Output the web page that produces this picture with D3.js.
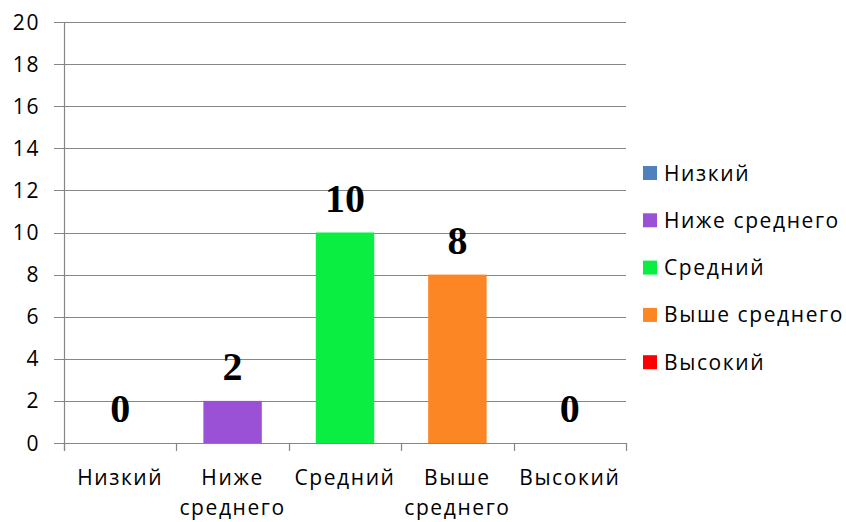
<!DOCTYPE html>
<html>
<head>
<meta charset="utf-8">
<script src="https://cdn.jsdelivr.net/npm/d3@7"></script>
<style>
  html, body { margin: 0; padding: 0; background: #fff; }
  svg { display: block; }
  text { font-family: "Open Sans", "Liberation Sans", sans-serif; fill: #000; }
</style>
</head>
<body>
<svg id="chart" width="846" height="522"></svg>
<script>
// Distribution of levels
const categories = ["Низкий", "Ниже среднего", "Средний", "Выше среднего", "Высокий"];
const categoryLines = [["Низкий"], ["Ниже", "среднего"], ["Средний"], ["Выше", "среднего"], ["Высокий"]];
const values = [0, 2, 10, 8, 0];
const colors = ["#4f81bd", "#9b51d6", "#0aee42", "#fb8623", "#fe0000"];
const yTicks = [0, 2, 4, 6, 8, 10, 12, 14, 16, 18, 20];

const svg = d3.select("#chart");
const x0 = 64, xEnd = 626;
const yTop = 22, yBot = 443;

const x = d3.scaleBand().domain(categories).range([x0, xEnd]).paddingInner(0.48).paddingOuter(0.24);
const xb = d3.scaleBand().domain(categories).range([x0, xEnd]);
const y = d3.scaleLinear().domain([0, 20]).range([yBot, yTop]);

const gridColor = "#868686";
const labelSize = 21;
const spacing = "1.6px";

// horizontal gridlines with left tick stubs
svg.append("g").selectAll("line").data(yTicks).join("line")
  .attr("x1", 54).attr("x2", xEnd)
  .attr("y1", d => Math.round(y(d)) + 0.5).attr("y2", d => Math.round(y(d)) + 0.5)
  .attr("stroke", gridColor).attr("stroke-width", 1.2);

// y tick labels
svg.append("g").selectAll("text").data(yTicks).join("text")
  .attr("x", 40).attr("y", d => y(d)).attr("dy", "0.36em")
  .attr("text-anchor", "end").attr("font-size", labelSize)
  .style("letter-spacing", spacing).text(d => d);

// bars
svg.append("g").selectAll("rect").data(values).join("rect")
  .attr("x", (d, i) => x(categories[i]))
  .attr("width", x.bandwidth())
  .attr("y", d => y(d))
  .attr("height", d => yBot - y(d))
  .attr("fill", (d, i) => colors[i]);

// y axis line
svg.append("line").attr("x1", x0 + 0.5).attr("x2", x0 + 0.5)
  .attr("y1", yTop).attr("y2", yBot + 8)
  .attr("stroke", gridColor).attr("stroke-width", 1.2);

// x axis baseline and category dividers
svg.append("line").attr("x1", x0).attr("x2", xEnd)
  .attr("y1", Math.round(yBot) + 0.5).attr("y2", Math.round(yBot) + 0.5)
  .attr("stroke", gridColor).attr("stroke-width", 1.2);
const dividers = categories.map(c => xb(c)).concat([xb(categories[categories.length - 1]) + xb.bandwidth()]);
svg.append("g").selectAll("line").data(dividers).join("line")
  .attr("x1", d => Math.round(d) + 0.5).attr("x2", d => Math.round(d) + 0.5)
  .attr("y1", yBot).attr("y2", yBot + 8)
  .attr("stroke", gridColor).attr("stroke-width", 1.2);

// category labels
const catG = svg.append("g").selectAll("text").data(categoryLines).join("text")
  .attr("text-anchor", "middle").attr("font-size", labelSize)
  .style("letter-spacing", spacing)
  .attr("x", (d, i) => xb(categories[i]) + xb.bandwidth() / 2)
  .attr("y", 485);
catG.selectAll("tspan").data(d => d).join("tspan")
  .attr("x", function () { return d3.select(this.parentNode).attr("x"); })
  .attr("dy", (d, j) => j === 0 ? 0 : 30)
  .text(d => d);

// value labels
svg.append("g").selectAll("text").data(values).join("text")
  .attr("x", (d, i) => x(categories[i]) + x.bandwidth() / 2)
  .attr("y", d => y(d) - 21)
  .attr("text-anchor", "middle")
  .style("font-family", "'Liberation Serif', 'Times New Roman', serif")
  .attr("font-weight", "bold").attr("font-size", 40)
  .text(d => d);

// legend
const legend = svg.append("g").selectAll("g").data(categories).join("g")
  .attr("transform", (d, i) => `translate(643, ${173 + i * 47.3})`);
legend.append("rect").attr("x", 0).attr("y", -7).attr("width", 14).attr("height", 14)
  .attr("fill", (d, i) => colors[i]);
legend.append("text").attr("x", 21).attr("y", 0).attr("dy", "0.36em")
  .attr("font-size", labelSize).style("letter-spacing", spacing).text(d => d);
</script>
</body>
</html>
